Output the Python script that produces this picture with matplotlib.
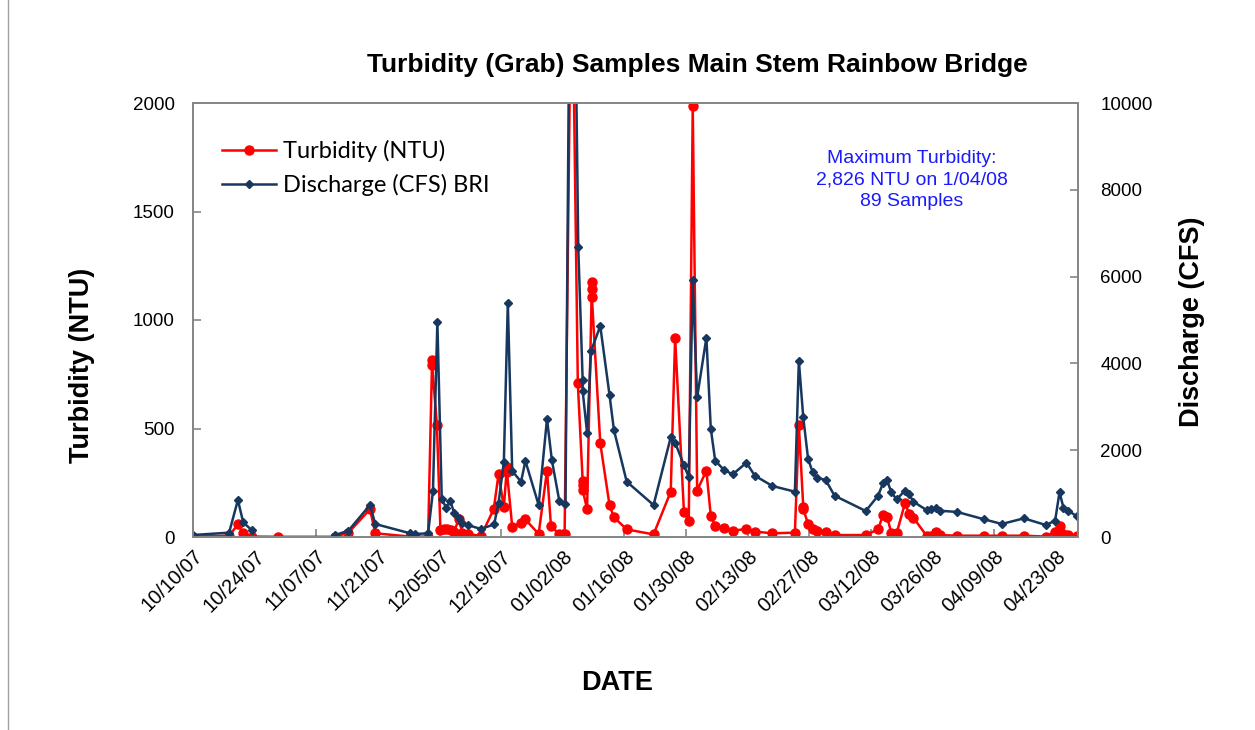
import numpy as np
import pandas as pd
import matplotlib
matplotlib.use("Agg")
import matplotlib.pyplot as plt
import matplotlib.dates as mdates
from matplotlib.lines import Line2D

# grab samples, Main Stem at Rainbow Bridge, Oct 2007 - Apr 2008
start = pd.Timestamp("2007-10-10")

# days after 10/10/07 for each turbidity sample
turb_days = [0, 8.2, 10.2, 11.4, 13.3, 19.3, 32.3, 35.3, 40.2, 41.4, 49.3, 50.5, 53.4,
             54.3, 54.3, 55.4, 56.2, 57.1, 57.8, 58.6, 59.3, 60.3, 61.2, 62.4, 65.4,
             68.3, 69.4, 70.6, 71.3, 71.3, 72.5, 74.5, 75.5, 78.5, 80.4, 81.3, 83.2, 84.4,
             86.0, 87.4, 88.5, 88.5, 88.5, 89.5, 90.6, 90.6, 90.6, 92.5, 94.6, 95.6, 98.5,
             104.6, 108.5, 109.5, 111.5, 112.6, 113.5, 114.5, 116.6, 117.6, 118.6, 120.6,
             122.6, 125.7, 127.6, 131.6, 136.7, 137.6, 138.6, 138.6, 139.7, 140.7, 141.7,
             143.7, 145.7, 152.8, 155.6, 156.7, 157.6, 158.6, 159.8, 161.7, 162.7, 163.6,
             166.6, 167.7, 168.7, 169.6, 173.6, 179.7, 183.7, 188.7, 193.7, 195.8, 196.8,
             197.7, 198.8, 200.7]
turbidity = [2, 6, 58, 17, 2, 1, 1, 20, 128, 17, 2, 2, 2,
             816, 793, 516, 32, 37, 35, 32, 22, 81, 20, 14, 5,
             128, 290, 137, 324, 301, 47, 66, 81, 14, 306, 52, 12, 12,
             2826, 708, 260, 240, 217, 129, 1176, 1141, 1104, 432, 147, 91, 35,
             12, 209, 918, 117, 75, 1987, 214, 306, 97, 51, 43,
             28, 38, 25, 17, 20, 516, 140, 129, 60, 35, 28,
             25, 9, 9, 35, 101, 94, 20, 17, 155, 106, 89,
             6, 6, 22, 9, 6, 6, 6, 6, 2, 25, 51,
             14, 9, 6]

# days after 10/10/07 for the discharge readings (nan = no reading)
flow_days = [0, 8.2, 10.2, 11.4, 13.3, 19.3, 32.3, 35.3, 40.2, 41.4, 49.3, 50.5, 53.4,
             54.5, 55.5, 56.5, 57.5, 58.4, 59.3, 60.3, 61.2, 62.4, 65.4, 68.4, 69.4,
             70.6, 71.5, 72.5, 74.5, 75.5, 78.5, 80.4, 81.5, 83.2, 84.6, 86.0, 87.5,
             88.5, 88.5, 89.5, 90.4, 92.5, 94.6, 95.6, 98.5, 104.6, 108.5, 109.5, 111.5,
             112.6, 113.5, 114.5, 116.6, 117.6, 118.6, 120.6, 122.6, 125.7, 127.6, 131.6,
             136.7, 137.6, 138.6, 139.7, 140.7, 141.7, 143.7, 145.7, 152.8, 155.6, 156.7,
             157.6, 158.6, 159.8, 161.7, 162.7, 163.6, 166.6, 167.7, 168.7, 169.6, 173.6,
             179.7, 183.7, 188.7, 193.7, 195.8, 196.8, 197.7, 198.8, 200.7]
discharge = [46, 100, 852, 338, 161, np.nan, 46, 146, 737, 300, 85, 69, 85,
             1060, 4960, 868, 676, 837, 561, 430, 330, 276, 184, 292, 791,
             1735, 5400, 1520, 1274, 1751, 737, 2719, 1774, 829, 753, 19000, 6675,
             3617, 3364, 2404, 4285, 4861, 3272, 2465, 1275, 737, 2297, 2174, 1659,
             1375, 5921, 3218, 4593, 2496, 1759, 1544, 1444, 1713, 1413, 1175,
             1044, 4062, 2757, 1797, 1505, 1367, 1313, 952, 599, 952, 1237,
             1313, 1030, 868, 1067, 980, 813, 622, 638, 676, 606, 576,
             407, 300, 430, 276, 376, 1030, 676, 599, 484]

note = "Maximum Turbidity:\n2,826 NTU on 1/04/08\n89 Samples"

t_dates = start + pd.to_timedelta(turb_days, unit="D")
q_dates = start + pd.to_timedelta(flow_days, unit="D")

plt.rcParams['font.family'] = ['Liberation Sans', 'DejaVu Sans']

W, H = 1255, 730
fig = plt.figure(figsize=(W / 100, H / 100), dpi=100)
ax = fig.add_axes([193 / W, 1 - 537 / H, (1078 - 193) / W, (537 - 103) / H])
ax2 = ax.twinx()

red = "#FF0000"
navy = "#17375E"
grey = "#868686"

l1, = ax.plot(t_dates, turbidity, '-o', color=red, lw=1.8, ms=6.5, label="Turbidity (NTU)")
l2, = ax2.plot(q_dates, discharge, '-D', color=navy, lw=1.8, ms=4, label="Discharge (CFS) BRI")

ax.set_ylim(0, 2000)
ax.set_yticks([0, 500, 1000, 1500, 2000])
ax2.set_ylim(0, 10000)
ax2.set_yticks([0, 2000, 4000, 6000, 8000, 10000])
ax.set_xlim(pd.Timestamp("2007-10-10"), pd.Timestamp("2008-04-28"))
ax.set_xticks(pd.date_range("2007-10-10", "2008-04-23", freq="14D"))
ax.xaxis.set_major_formatter(mdates.DateFormatter("%m/%d/%y"))

for a in (ax, ax2):
    for s in a.spines.values():
        s.set_color(grey)
        s.set_linewidth(1.3)
    a.tick_params(direction="in", length=6, width=1.2, color=grey, labelsize=13.5)
ax.tick_params(axis="y", pad=13)
ax2.tick_params(axis="y", pad=16)
ax.tick_params(axis="x", pad=7, labelsize=14.5)
plt.setp(ax.get_xticklabels(), rotation=45, ha="right", rotation_mode="anchor")

fig.text(697 / W, 1 - 65 / H, "Turbidity (Grab) Samples Main Stem Rainbow Bridge",
         ha="center", va="center", fontsize=19, fontweight="bold")
fig.text(82 / W, 1 - 365 / H, "Turbidity (NTU)", rotation=90, ha="center", va="center",
         fontsize=19.5, fontweight="bold")
fig.text(1192 / W, 1 - 322 / H, "Discharge (CFS)", rotation=90, ha="center", va="center",
         fontsize=19.5, fontweight="bold")
fig.text(617 / W, 1 - 683 / H, "DATE", ha="center", va="center", fontsize=19.5,
         fontweight="bold")
fig.text(912 / W, 1 - 180 / H, note, ha="center", va="center", fontsize=14,
         color="#1A1AFF", linespacing=1.38)

ax.legend(handles=[l1, l2], loc="upper left", bbox_to_anchor=(222 / W, 1 - 140 / H),
          bbox_transform=fig.transFigure, frameon=False, borderpad=0, borderaxespad=0,
          handlelength=2.3, handletextpad=0.3, labelspacing=0.5,
          prop={'family': ['Lato', 'DejaVu Sans'], 'size': 17})

# chart frame edge on the left
fig.add_artist(Line2D([8 / W, 8 / W], [0, 1], transform=fig.transFigure,
                      color="#A0A0A0", lw=1))

fig.savefig("out.png", dpi=100)
